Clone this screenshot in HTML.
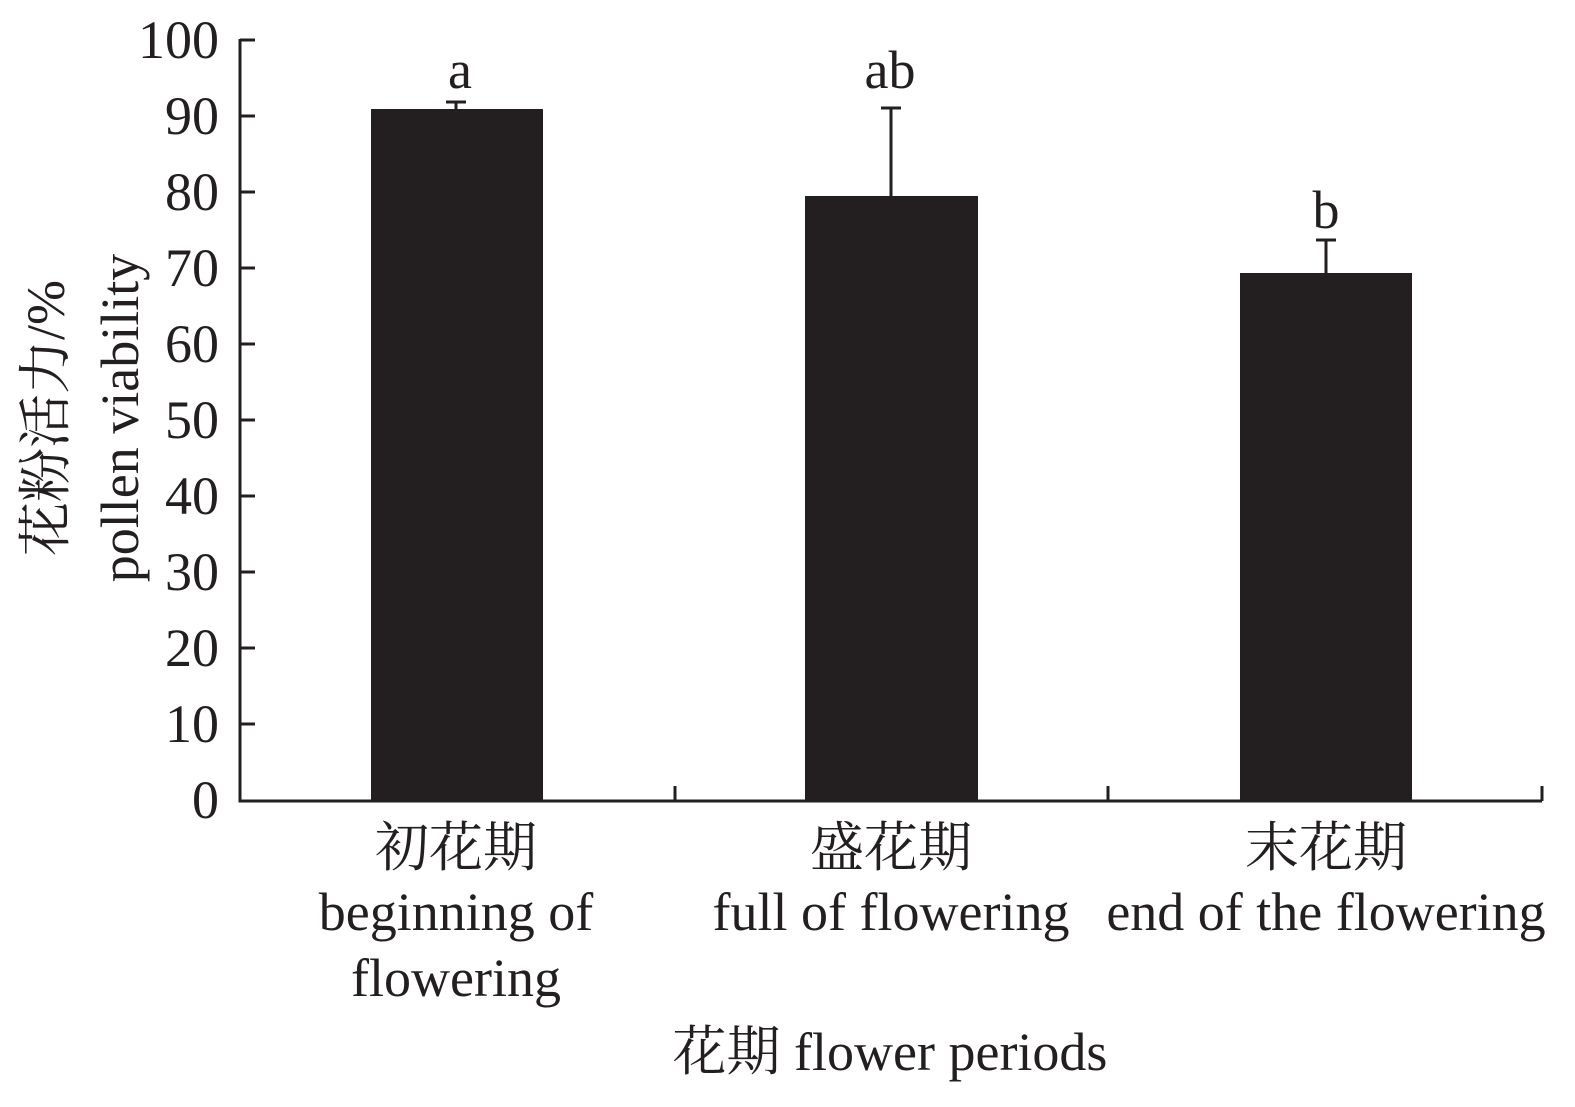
<!DOCTYPE html>
<html><head><meta charset="utf-8"><style>body{margin:0;background:#fff}</style></head><body>
<svg width="1575" height="1102" xmlns="http://www.w3.org/2000/svg" font-family="Liberation Serif, Noto Serif CJK SC, serif" fill="#231f20">
<g stroke="#231f20" stroke-width="3" fill="none">
<path d="M240,39V801H1542"/>
<path d="M240,40h15M240,116h15M240,192h15M240,268h15M240,344h15M240,420h15M240,496h15M240,572h15M240,648h15M240,724h15"/>
<path d="M675,801v-15M1108,801v-15M1542,801v-15"/>
<path d="M456,109V102M446,102h20M891,196V108M881,108h20M1326,273V240M1316,240h20"/>
</g>
<rect x="371" y="109" width="172" height="692"/>
<rect x="805" y="196" width="173" height="605"/>
<rect x="1240" y="273" width="172" height="528"/>
<g font-size="54" text-anchor="end">
<text x="219" y="58">100</text><text x="219" y="134">90</text><text x="219" y="210">80</text><text x="219" y="286">70</text><text x="219" y="362">60</text><text x="219" y="438">50</text><text x="219" y="514">40</text><text x="219" y="590">30</text><text x="219" y="666">20</text><text x="219" y="742">10</text><text x="219" y="818">0</text>
</g>
<g font-size="54" text-anchor="middle">
<text x="460" y="88">a</text><text x="890" y="88">ab</text><text x="1326" y="228">b</text>
<text x="456" y="866">初花期</text><text x="456" y="930">beginning of</text><text x="456" y="996">flowering</text>
<text x="891" y="866">盛花期</text><text x="891" y="930">full of flowering</text>
<text x="1326" y="866">末花期</text><text x="1326" y="930">end of the flowering</text>
<text x="890" y="1070">花期 flower periods</text>
<text transform="translate(64,418) rotate(-90)">花粉活力/%</text>
<text transform="translate(138,418) rotate(-90)">pollen viability</text>
</g>
</svg>
</body></html>
